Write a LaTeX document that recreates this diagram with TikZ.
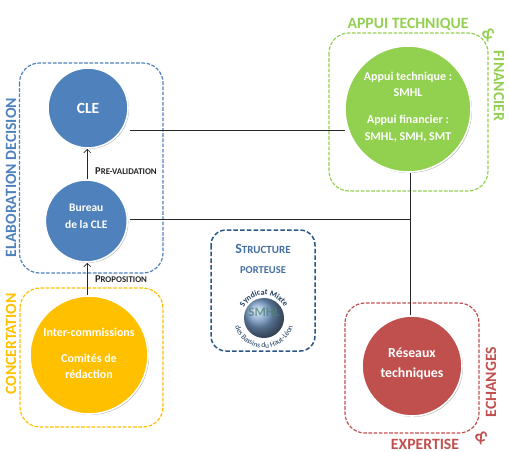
\documentclass[tikz,border=0pt]{standalone}
\usepackage{fontspec}
\setmainfont{Carlito}
\usepackage{xcolor}
\usetikzlibrary{arrows.meta, shadows, decorations.text}
\definecolor{cleblue}{HTML}{4F81BD}
\definecolor{concyellow}{HTML}{FFC000}
\definecolor{appuigreen}{HTML}{92D050}
\definecolor{reseaured}{HTML}{C0504D}
\definecolor{portblue}{HTML}{2A5788}
\newcommand{\fs}[1]{\fontsize{#1}{#1}\selectfont}
\newcommand{\fsl}[2]{\fontsize{#1}{#2}\selectfont}
\tikzset{
  actorcircle/.style={
    circle, draw=white, line width=1.6pt, text=white, align=center, inner sep=0pt,
    drop shadow={shadow xshift=1pt, shadow yshift=-1pt, opacity=0.3, fill=black}
  },
  groupbox/.style={dash pattern=on 3.6pt off 1.6pt, line width=1.2pt, rounded corners=20pt},
  grouplabel/.style={font=\bfseries\fs{15.7}, inner sep=0pt},
  flowlabel/.style={font=\bfseries, inner sep=0pt, text=black!85},
  linkline/.style={black!85, line width=0.7pt},
  flowarrow/.style={-{Straight Barb[length=3.5pt,width=7pt]}, black!85, line width=0.7pt},
}
\begin{document}
\begin{tikzpicture}[x=1pt, y=-1pt]
  \useasboundingbox (0,0) rectangle (509,451);

  % Groups
  \draw[groupbox, cleblue] (19.5,63) rectangle (163,273);
  \draw[groupbox, concyellow] (20,288) rectangle (163,427);
  \draw[groupbox, appuigreen] (329,33) rectangle (488,191);
  \draw[groupbox, reseaured] (345,303) rectangle (479,433);
  \draw[groupbox, portblue, line width=1.5pt, dash pattern=on 4.5pt off 2.2pt, rounded corners=15pt] (211,230) rectangle (315,351);

  % Actors
  \node[actorcircle, fill=cleblue, minimum size=80pt, font=\bfseries\fs{15.5}] (cle) at (88,108) {CLE};
  \node[actorcircle, fill=cleblue, minimum size=82pt, font=\bfseries\fsl{11.5}{17}] (bureau) at (86.3,221)
    {Bureau\\de la CLE\\[-8pt]};
  \node[actorcircle, fill=concyellow, minimum size=118pt, font=\bfseries\fsl{12}{16}] (inter) at (89,355)
    {Inter-commissions\\[10pt]Comités de\\rédaction\\[-12pt]};
  \node[actorcircle, fill=appuigreen, minimum size=126pt, font=\bfseries\fsl{12}{16.5}] (appui) at (408,109)
    {\\[-12.5pt]Appui technique :\\SMHL\\[10.5pt]Appui financier :\\SMHL, SMH, SMT};
  \node[actorcircle, fill=reseaured, minimum size=100pt, font=\bfseries\fsl{13.8}{20}] (reseaux) at (412,366)
    {Réseaux\\techniques\\[-14pt]};

  % Connectors
  \coordinate (cleout) at (130,130);
  \coordinate (appuiin) at (345,130);
  \coordinate (bureauout) at (130,219);
  \coordinate (junction) at (410,219);
  \coordinate (flow) at (87.3,0);
  \draw[linkline] (cleout) -- (appuiin);
  \draw[linkline] (bureauout) -- (junction);
  \draw[linkline] (junction |- appui.south) -- (junction |- reseaux.north);
  \draw[flowarrow] (flow |- bureau.north) -- (flow |- cle.south);
  \draw[flowarrow] (flow |- inter.north) -- (flow |- bureau.south);
  \node[flowlabel] (prevalidation) at (126,171) {\fs{10.5}P\fs{8.8}RE-VALIDATION};
  \node[flowlabel] (proposition) at (121,279) {\fs{10.5}P\fs{8.8}ROPOSITION};

  % Group labels
  \node[grouplabel, text=cleblue, rotate=90] (elaboration) at (11,177.5) {ELABORATION DECISION};
  \node[grouplabel, text=concyellow, rotate=90] (concertation) at (11,344) {CONCERTATION};
  \node[grouplabel, text=appuigreen] (technique) at (408,24) {APPUI TECHNIQUE};
  \node[grouplabel, text=appuigreen, rotate=-90] (financier) at (499,86) {FINANCIER};
  \node[grouplabel, text=appuigreen, rotate=-50, font=\bfseries\fs{17}] (andgreen) at (489,34) {\&};
  \node[grouplabel, text=reseaured] (expertise) at (425,444) {EXPERTISE};
  \node[grouplabel, text=reseaured, rotate=90] (echanges) at (491,382) {ECHANGES};
  \node[grouplabel, text=reseaured, rotate=-50, font=\bfseries\fs{17}] (andred) at (482,437) {\&};

  % Structure porteuse
  \node[flowlabel, text=cleblue!85!black] (structure) at (263,249) {\fs{14}S\fs{11}TRUCTURE};
  \node[flowlabel, text=cleblue!85!black] (porteuse) at (263,270) {\fs{10.5}PORTEUSE};
  \node[circle, minimum size=40pt, inner sep=0pt, ball color=cleblue!75!white] (globe) at (264,318) {};
  \node[font=\bfseries\fs{13}, text=appuigreen!35!portblue, inner sep=0pt, opacity=0.75] (smhl) at (264,312) {SMHL};
  \path[decorate, decoration={text along path, text align=center,
    text={|\fs{8}\bfseries\color{portblue!70!black}|Syndicat Mixte}}]
    (264,318) ++(165:23pt) arc[start angle=165, end angle=15, radius=23pt];
  \path[decorate, decoration={text along path, text align=center,
    text={|\fs{7.5}\color{portblue!70!black}|des Bassins du Haut-Léon}}]
    (264,318) ++(185:30pt) arc[start angle=185, end angle=355, radius=30pt];
\end{tikzpicture}
\end{document}
